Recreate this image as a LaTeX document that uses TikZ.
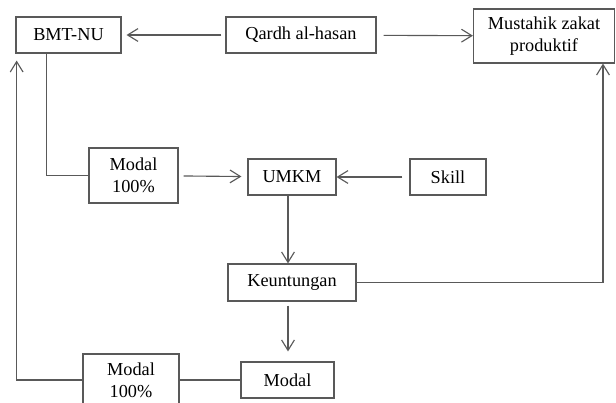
\documentclass[tikz,border=0pt]{standalone}
\usepackage{fontspec}
\setmainfont{Liberation Serif}
\usetikzlibrary{arrows.meta}

\begin{document}
\begin{tikzpicture}[
    box/.style={draw=black!65, line width=0.8pt, inner sep=0pt, align=center, font=\fontsize{13}{15.5}\selectfont},
    link/.style={draw=black!65, line width=0.8pt},
    >={Straight Barb[length=2.6mm, width=3.2mm]}
]
    \useasboundingbox (0,0) rectangle (15.4,-10.075);

    % 1. Top Row
    \node[box, minimum width=2.625cm, minimum height=0.9cm] (bmt) at (1.7125, -0.875) {BMT-NU};
    \node[box, minimum width=3.75cm, minimum height=0.9cm] (qardh) at (7.525, -0.875) {Qardh al-hasan};
    \node[box, minimum width=3.525cm, minimum height=1.35cm] (must) at (13.6, -0.9) {Mustahik zakat\\produktif};

    % 2. Middle Row
    \node[box, minimum width=2.225cm, minimum height=1.375cm] (modtop) at (3.3375, -4.3875) {Modal\\100\%};
    \node[box, minimum width=2.2cm, minimum height=0.9cm] (umkm) at (7.3, -4.425) {UMKM};
    \node[box, minimum width=1.9cm, minimum height=0.9cm] (skill) at (11.2, -4.425) {Skill};

    % 3. Profit
    \node[box, minimum width=3.2cm, minimum height=0.925cm] (keun) at (7.3, -7.0625) {Keuntungan};

    % 4. Bottom Row
    \node[box, minimum width=2.4cm, minimum height=1.3cm] (modbot) at (3.275, -9.5) {Modal\\100\%};
    \node[box, minimum width=2.325cm, minimum height=0.9cm] (modal) at (7.1875, -9.5) {Modal};

    % Arrows from Qardh al-hasan
    \draw[->, link, shorten <=0.1cm, shorten >=0.125cm] (qardh) -- (bmt);
    \draw[->, link, shorten <=0.175cm] (qardh) -- (must);

    % BMT-NU down to Modal, then into UMKM
    \draw[link] ([xshift=-0.54cm]bmt.south) |- (modtop.west);
    \draw[->, link, shorten <=0.125cm, shorten >=0.15cm] (modtop) -- (umkm);
    \draw[->, link, shorten <=0.175cm] (skill) -- (umkm);

    % UMKM -> Keuntungan -> Modal
    \draw[->, link] ([xshift=-0.1cm]umkm.south) -- ([xshift=-0.1cm]keun.north);
    \draw[->, link, shorten <=0.1cm, shorten >=0.25cm] ([xshift=-0.1cm]keun.south) -- ([xshift=-0.1cm]keun.south |- modal.north);

    % Keuntungan back to Mustahik (square path)
    \draw[->, link] (keun.east) -| ([xshift=1.475cm]must.south);

    % Return loop to BMT-NU
    \draw[link] (modal.west) -- (modbot.east);
    \draw[->, link, shorten >=0.175cm] (modbot.west) -| ([xshift=0.03cm]bmt.south west);

\end{tikzpicture}
\end{document}
